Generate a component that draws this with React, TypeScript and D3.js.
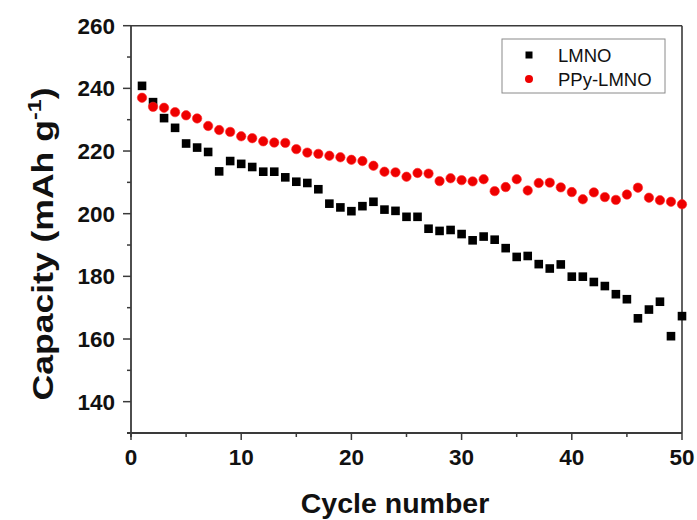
import React from "react";
import * as d3 from "d3";

const cycles = d3.range(1, 51);
const lmno = [
  240.8, 235.6, 230.5, 227.4, 222.4, 221.1, 219.7, 213.5, 216.8, 215.9,
  214.9, 213.4, 213.4, 211.6, 210.2, 209.8, 207.8, 203.2, 202.0, 200.8,
  202.4, 203.8, 201.3, 200.9, 199.0, 199.0, 195.2, 194.5, 194.8, 193.5,
  191.5, 192.7, 191.7, 189.0, 186.2, 186.5, 183.9, 182.5, 183.8, 179.9,
  179.9, 178.2, 176.9, 174.3, 172.7, 166.6, 169.4, 171.9, 160.9, 167.3,
];
const ppyLmno = [
  237.0, 234.1, 233.8, 232.4, 231.4, 230.4, 228.0, 226.7, 226.1, 224.7,
  224.1, 223.1, 222.7, 222.6, 220.6, 219.5, 219.1, 218.5, 218.0, 217.2,
  216.8, 215.3, 213.4, 213.2, 211.8, 213.0, 212.8, 210.4, 211.3, 210.7,
  210.3, 211.0, 207.2, 208.5, 211.0, 207.4, 209.8, 209.9, 208.4, 206.9,
  204.6, 206.8, 205.3, 204.4, 206.1, 208.3, 205.1, 204.3, 203.8, 203.0,
];
const seriesNames = ["LMNO", "PPy-LMNO"];
const xMajorTicks = [0, 10, 20, 30, 40, 50];
const yMajorTicks = [140, 160, 180, 200, 220, 240, 260];

const W = 697;
const H = 520;
const left = 131;
const right = 682;
const top = 25.7;
const bottom = 433;

export default function App() {
  const x = d3.scaleLinear().domain([0, 50]).range([left, right]);
  const y = d3.scaleLinear().domain([130, 260]).range([bottom, top]);
  const xMinor = d3.range(0, 51, 5).filter((v) => !xMajorTicks.includes(v));
  const yMinor = d3.range(130, 261, 10).filter((v) => !yMajorTicks.includes(v));
  const font = "'Liberation Sans', Arial, sans-serif";
  const axisColor = "#3a3a3a";
  const sq = 8.6;

  return (
    <svg
      width={W}
      height={H}
      style={{ position: "absolute", left: 0, top: 0, background: "#fff" }}
      fontFamily={font}
    >
      <rect x={0} y={0} width={W} height={H} fill="#fff" />
      {/* frame */}
      <line x1={left} x2={right} y1={top} y2={top} stroke={axisColor} strokeWidth={1.6} />
      <line x1={right} x2={right} y1={top} y2={bottom} stroke={axisColor} strokeWidth={1.6} />
      <line x1={left - 4} x2={right} y1={bottom} y2={bottom} stroke={axisColor} strokeWidth={1.8} />
      <line x1={left} x2={left} y1={top} y2={bottom + 4} stroke={axisColor} strokeWidth={1.8} />

      {/* y ticks */}
      {yMajorTicks.map((v) => (
        <g key={"ym" + v}>
          <line x1={left - 8} x2={left} y1={y(v)} y2={y(v)} stroke={axisColor} strokeWidth={1.5} />
          <text
            x={left - 16}
            y={y(v)}
            dy="0.36em"
            textAnchor="end"
            fontSize={22.5}
            fontWeight="bold"
            fill="#111"
          >
            {v}
          </text>
        </g>
      ))}
      {yMinor.map((v) => (
        <line key={"yn" + v} x1={left - 4} x2={left} y1={y(v)} y2={y(v)} stroke={axisColor} strokeWidth={1.5} />
      ))}

      {/* x ticks */}
      {xMajorTicks.map((v) => (
        <g key={"xm" + v}>
          <line x1={x(v)} x2={x(v)} y1={bottom} y2={bottom + 7} stroke={axisColor} strokeWidth={1.5} />
          <text x={x(v)} y={465} textAnchor="middle" fontSize={22.5} fontWeight="bold" fill="#111">
            {v}
          </text>
        </g>
      ))}
      {xMinor.map((v) => (
        <line key={"xn" + v} x1={x(v)} x2={x(v)} y1={bottom} y2={bottom + 4} stroke={axisColor} strokeWidth={1.5} />
      ))}

      {/* axis titles */}
      <text x={395} y={513} textAnchor="middle" fontSize={28.5} fontWeight="bold" fill="#111">
        Cycle number
      </text>
      <text
        transform={`translate(53, 244) rotate(-90)`}
        textAnchor="middle"
        fontSize={29}
        fontWeight="bold"
        fill="#111"
        textLength={313}
        lengthAdjust="spacingAndGlyphs"
      >
        Capacity (mAh g
        <tspan fontSize={19} dy={-12}>-1</tspan>
        <tspan dy={12}>)</tspan>
      </text>

      {/* data: LMNO squares */}
      {cycles.map((c, i) => (
        <rect
          key={"s" + c}
          x={x(c) - sq / 2}
          y={y(lmno[i]) - sq / 2}
          width={sq}
          height={sq}
          fill="#000"
        />
      ))}
      {/* data: PPy-LMNO circles */}
      {cycles.map((c, i) => (
        <circle key={"c" + c} cx={x(c)} cy={y(ppyLmno[i])} r={4.7} fill="#ee0000" stroke="#ff2a2a" strokeWidth={0.6} />
      ))}

      {/* legend */}
      <rect x={502} y={39} width={163} height={54} fill="#fff" stroke="#8a8a8a" strokeWidth={1} />
      <rect x={529 - 3.5} y={55 - 3.5} width={7} height={7} fill="#000" />
      <text x={558} y={62} fontSize={18.5} fill="#111">
        {seriesNames[0]}
      </text>
      <circle cx={529} cy={79} r={4} fill="#ee0000" />
      <text x={558} y={86} fontSize={18.5} fill="#111">
        {seriesNames[1]}
      </text>
    </svg>
  );
}
